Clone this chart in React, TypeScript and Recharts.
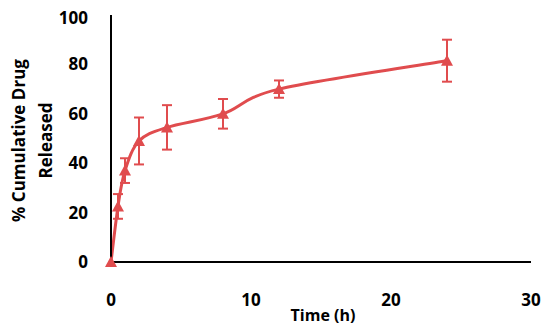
import React from 'react';
import { ComposedChart, Line, XAxis, YAxis, ErrorBar } from 'recharts';

const times = [0, 0.5, 1, 2, 4, 8, 12, 24];
const released = [0, 22.5, 37, 49, 54.5, 60, 70, 81.5];
const errors = [0, 5, 5, 9.5, 9, 6, 3.5, 8.5];
const xTicks = [0, 10, 20, 30];
const yTicks = [0, 20, 40, 60, 80, 100];

const data = times.map((t, i) => ({ t, y: released[i], err: errors[i] }));

const RED = '#E04C4E';
const FONT = '"Open Sans", sans-serif';

// Excel-style smoothed line (Catmull-Rom style Bezier, tension 1/6)
const excelCurve = (context: any) => {
  let pts: number[][] = [];
  return {
    areaStart() {},
    areaEnd() {},
    lineStart() {
      pts = [];
    },
    point(x: number, y: number) {
      pts.push([+x, +y]);
    },
    lineEnd() {
      const n = pts.length;
      if (n === 0) return;
      context.moveTo(pts[0][0], pts[0][1]);
      if (n === 1) return;
      for (let i = 0; i < n - 1; i++) {
        const p0 = pts[Math.max(i - 1, 0)];
        const p1 = pts[i];
        const p2 = pts[i + 1];
        const p3 = pts[Math.min(i + 2, n - 1)];
        const c1x = p1[0] + (p2[0] - p0[0]) / 6;
        const c1y = p1[1] + (p2[1] - p0[1]) / 6;
        const c2x = p2[0] - (p3[0] - p1[0]) / 6;
        const c2y = p2[1] - (p3[1] - p1[1]) / 6;
        context.bezierCurveTo(c1x, c1y, c2x, c2y, p2[0], p2[1]);
      }
    },
  };
};

const Triangle = (props: any) => {
  const { cx, cy } = props;
  if (cx == null || cy == null) return null;
  return (
    <path
      d={`M${cx},${cy - 6} L${cx + 6},${cy + 5} L${cx - 6},${cy + 5} Z`}
      fill={RED}
      stroke="none"
    />
  );
};

const YLabel = (props: any) => {
  const vb = props.viewBox || {};
  const cy = vb.y + vb.height / 2 + 2;
  return (
    <g>
      <text
        x={10}
        y={cy}
        transform={`rotate(-90, 10, ${cy})`}
        textAnchor="middle"
        dominantBaseline="central"
        fontFamily={FONT}
        fontWeight="bold"
        fontSize={17}
        fill="#000"
      >
        % Cumulative  Drug
      </text>
      <text
        x={37}
        y={cy}
        transform={`rotate(-90, 37, ${cy})`}
        textAnchor="middle"
        dominantBaseline="central"
        fontFamily={FONT}
        fontWeight="bold"
        fontSize={17}
        fill="#000"
      >
        Released
      </text>
    </g>
  );
};

const XLabel = () => (
  <text
    x={315}
    y={307}
    textAnchor="middle"
    dominantBaseline="central"
    fontFamily={FONT}
    fontWeight="bold"
    fontSize={16}
    fill="#000"
  >
    Time (h)
  </text>
);

export default function App() {
  return (
    <ComposedChart
      width={550}
      height={330}
      data={data}
      margin={{ top: 7, right: 27, bottom: 16, left: 43 }}
    >
      <XAxis
        dataKey="t"
        type="number"
        domain={[0, 30]}
        ticks={xTicks}
        tickLine={false}
        tickSize={0}
        tickMargin={32}
        axisLine={{ stroke: '#000', strokeWidth: 2 }}
        tick={{ fill: '#000', fontFamily: FONT, fontWeight: 'bold', fontSize: 17 }}
        height={60}
        label={<XLabel />}
      />
      <YAxis
        type="number"
        domain={[0, 100]}
        ticks={yTicks}
        tickLine={false}
        tickSize={0}
        tickMargin={23}
        axisLine={{ stroke: '#000', strokeWidth: 2 }}
        tick={{ fill: '#000', fontFamily: FONT, fontWeight: 'bold', fontSize: 17 }}
        width={60}
        label={<YLabel />}
      />
      <Line
        type={excelCurve as any}
        dataKey="y"
        stroke={RED}
        strokeWidth={3}
        dot={<Triangle />}
        activeDot={false}
        isAnimationActive={false}
      >
        <ErrorBar dataKey="err" width={5} stroke={RED} strokeWidth={2} direction="y" />
      </Line>
    </ComposedChart>
  );
}
